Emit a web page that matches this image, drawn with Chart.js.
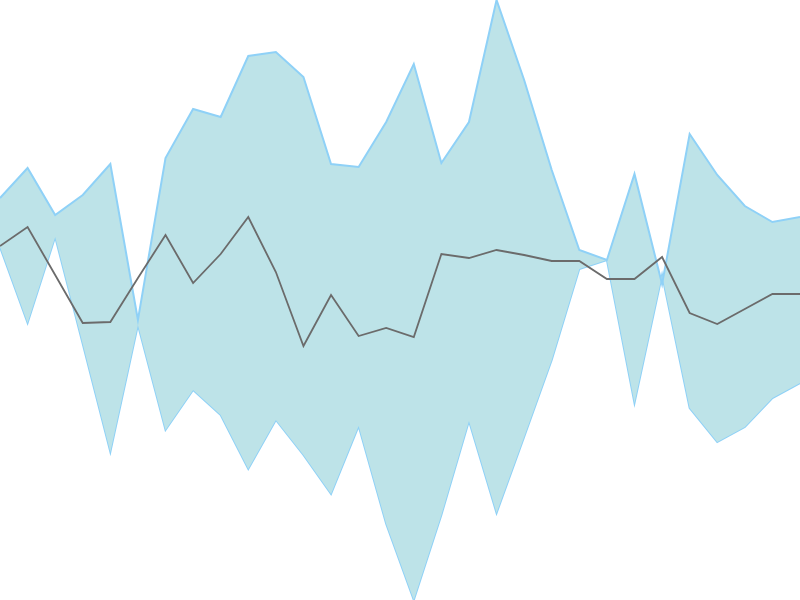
<!DOCTYPE html>
<html>
<head>
<meta charset="utf-8">
<script src="https://cdn.jsdelivr.net/npm/chart.js@4"></script>
<style>
  html, body { margin: 0; padding: 0; background: #fff; }
  #wrap { width: 800px; height: 600px; position: relative; }
</style>
</head>
<body>
<div id="wrap"><canvas id="c"></canvas></div>
<script>
const categories = Array.from({length: 30}, (_, i) => String(i + 1));
const upperValues = [402,432,385,405,436,280,442,491,483,544,548,523,436,433,478,536,437,478,600,520,430,350,340,426,316,466,425,394,378,383];
const lowerValues = [353,277,363,256,148,275,170,210,185,131,180,145,106,174,76,0,85,179,87,163,240,331,340,197,325,192,158,173,202,217];
const midValues   = [354,373,325,277,278,322,365,317,346,383,328,254,305,264,272,263,346,342,350,345,339,339,321,321,343,287,276,291,306,306];

new Chart(document.getElementById('c'), {
  type: 'line',
  data: {
    labels: categories,
    datasets: [
      { label: 'mid', data: midValues, borderColor: '#6b6b6b', borderWidth: 1.8, fill: false, pointRadius: 0, tension: 0 },
      { label: 'upper', data: upperValues, borderColor: '#8fd1f7', backgroundColor: '#bde3e8', borderWidth: 2, fill: '+1', pointRadius: 0, tension: 0 },
      { label: 'lower', data: lowerValues, borderColor: '#8fd1f7', borderWidth: 2, fill: false, pointRadius: 0, tension: 0 }
    ]
  },
  options: {
    responsive: true,
    maintainAspectRatio: false,
    animation: false,
    layout: { padding: 0 },
    plugins: { legend: { display: false }, tooltip: { enabled: false }, title: { display: false } },
    scales: {
      x: { display: false, offset: false },
      y: { display: false, min: 0, max: 600 }
    }
  }
});
</script>
</body>
</html>
